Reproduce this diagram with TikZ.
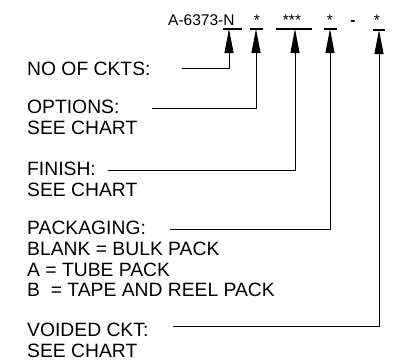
\documentclass[tikz,border=0pt]{standalone}
\usepackage{fontspec}
\setmainfont{Liberation Sans}
\usetikzlibrary{arrows.meta}
\begin{document}
\begin{tikzpicture}[x=1pt,y=-1pt,
  lbl/.style={anchor=north west, inner sep=0pt, align=left,
              font=\fontsize{19.3}{20.7}\selectfont},
  toptxt/.style={anchor=base, inner sep=0pt, font=\fontsize{15.5}{18}\selectfont},
  ul/.style={line width=1.2pt},
  conn/.style={line width=0.9pt, -{Triangle[length=24pt,width=9pt]}}]
\useasboundingbox (0,0) rectangle (393,360);

% part number line
\node[toptxt, anchor=base west] (pn) at (168,25) {A-6373-N};
\node[toptxt] (s1) at (257,25) {*};
\node[toptxt] (s2) at (292,25) {***};
\node[toptxt] (s3) at (330,25) {*};
\node[toptxt, font=\fontsize{15.5}{18}\selectfont\bfseries] (dash) at (353,25) {-};
\node[toptxt] (s4) at (377,25) {*};

% underlines
\draw[ul] (223,29) -- (242,29);
\draw[ul] (250,29) -- (263,29);
\draw[ul] (276,29) -- (312,29);
\draw[ul] (324,29) -- (337,29);
\draw[ul] (373,30) -- (385,30);

% arrow tips
\coordinate (tN) at (229,29);
\coordinate (t1) at (256,29);
\coordinate (t2) at (295,29);
\coordinate (t3) at (330,29);
\coordinate (t4) at (379,30);

% labels
\node[lbl] (ckts) at (27,62) {NO OF CKTS:};
\node[lbl] (opt) at (27,100) {OPTIONS:\\SEE CHART};
\node[lbl] (fin) at (27,162) {FINISH:\\SEE CHART};
\node[lbl] (pack) at (27,221) {PACKAGING:\\BLANK = BULK PACK\\A = TUBE PACK\\B\ \ = TAPE AND REEL PACK};
\node[lbl] (void) at (27,323) {VOIDED CKT:\\SEE CHART};

% connector start points
\coordinate (cN) at (182,68);
\coordinate (c1) at (152,108);
\coordinate (c2) at (108,170);
\coordinate (c3) at (170,229);
\coordinate (c4) at (173,326);

\draw[conn] (cN) -| (tN);
\draw[conn] (c1) -| (t1);
\draw[conn] (c2) -| (t2);
\draw[conn] (c3) -| (t3);
\draw[conn] (c4) -| (t4);
\end{tikzpicture}
\end{document}
